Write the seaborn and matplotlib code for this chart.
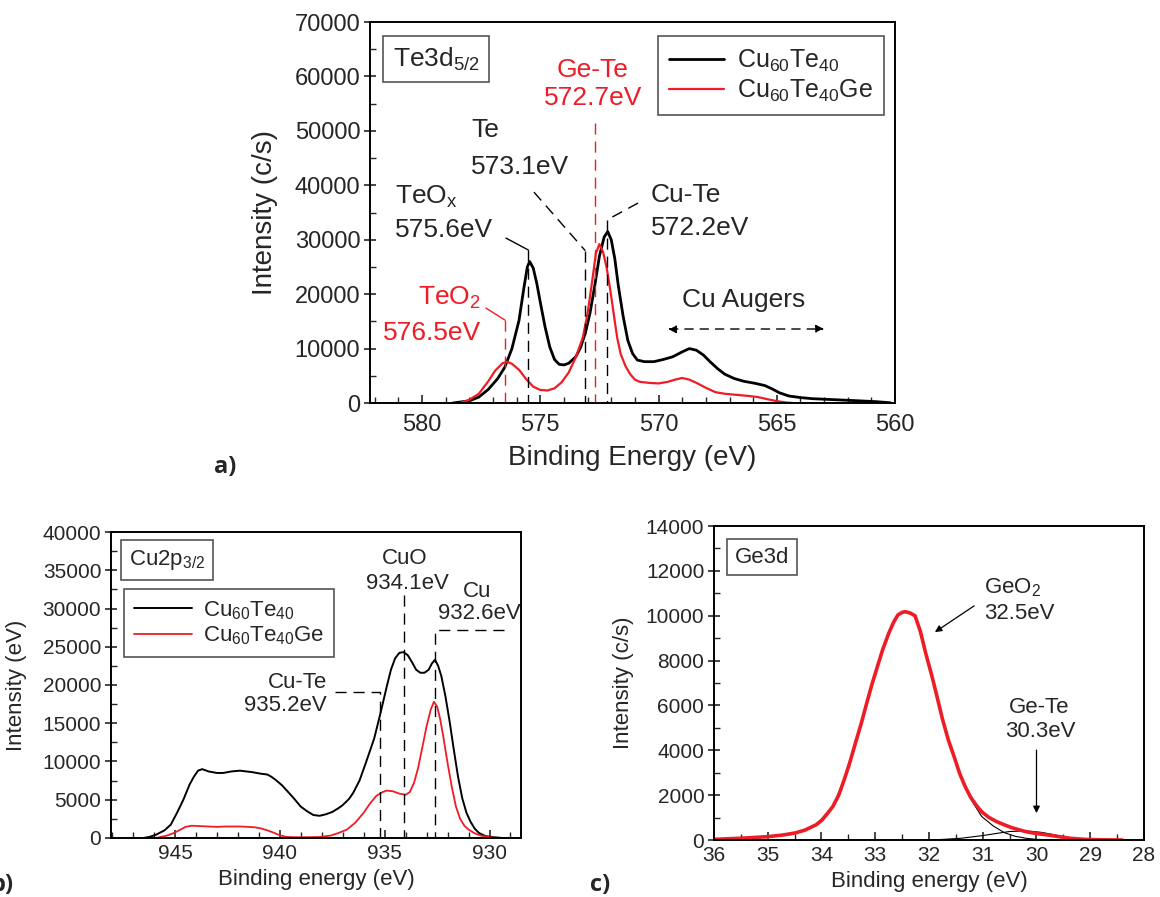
import matplotlib
matplotlib.use("Agg")
import matplotlib.pyplot as plt
import seaborn as sns
import pandas as pd
from matplotlib.ticker import MultipleLocator

# ---------------- data: panel a (Te3d5/2) ----------------
te_be_cute = [578.7, 578.0, 577.6, 577.2, 576.8, 576.5, 576.2, 575.9, 575.7, 575.55, 575.45, 575.3,
              575.15, 575.0, 574.8, 574.6, 574.4, 574.2, 574.0, 573.8, 573.5, 573.3, 573.1, 572.9,
              572.7, 572.5, 572.3, 572.15, 572.0, 571.85, 571.7, 571.5, 571.3, 571.1, 570.9, 570.6,
              570.2, 569.8, 569.4, 569.0, 568.7, 568.4, 568.1, 567.8, 567.5, 567.2, 566.8, 566.4,
              565.9, 565.5, 565.2, 564.9, 564.5, 564.0, 563.5, 562.5, 561.5, 560.8, 560.2]
te_int_cute = [0, 400, 1100, 2500, 4500, 6600, 10000, 15200, 21000, 25000, 26000, 24800,
               22000, 18500, 14000, 10300, 8000, 7100, 7000, 7300, 8500, 10200, 12800, 16500,
               21500, 27000, 30500, 31500, 30000, 26500, 21500, 16000, 11500, 9100, 7900, 7600,
               7600, 8000, 8500, 9400, 10000, 9700, 8800, 7500, 6300, 5300, 4500, 4000,
               3600, 3200, 2600, 1900, 1300, 1000, 800, 600, 400, 250, 50]
te_be_ge = [578.4, 578.0, 577.6, 577.2, 576.9, 576.6, 576.4, 576.2, 575.9, 575.6, 575.3, 575.0,
            574.7, 574.4, 574.1, 573.8, 573.5, 573.2, 573.0, 572.8, 572.65, 572.5, 572.35, 572.2,
            572.05, 571.9, 571.75, 571.6, 571.4, 571.2, 571.0, 570.8, 570.4, 570.0, 569.6, 569.3,
            569.0, 568.7, 568.4, 568.0, 567.6, 567.2, 566.7, 566.2, 565.8, 565.4, 565.0, 564.6, 564.3]
te_int_ge = [0, 600, 1700, 4000, 6000, 7300, 7600, 7200, 6100, 4400, 3000, 2400,
             2300, 2700, 3800, 5600, 8400, 12100, 16500, 22600, 27500, 29200, 27800, 25000,
             21000, 16500, 12000, 9000, 6800, 5300, 4300, 3900, 3700, 3600, 3900, 4300,
             4600, 4300, 3700, 2800, 2000, 1700, 1500, 1300, 1100, 700, 350, 100, 0]

# ---------------- data: panel b (Cu2p3/2) ----------------
cu_be_cute = [946.5, 946.2, 945.9, 945.5, 945.2, 944.9, 944.6, 944.3, 944.1, 943.9, 943.7, 943.4,
              943.0, 942.7, 942.3, 941.9, 941.6, 941.3, 940.9, 940.6, 940.4, 940.2, 939.9, 939.7,
              939.4, 939.0, 938.7, 938.4, 938.1, 937.8, 937.5, 937.2, 937.0, 936.7, 936.5, 936.2,
              935.9, 935.5, 935.2, 934.9, 934.7, 934.5, 934.3, 934.1, 933.9, 933.7, 933.5, 933.3,
              933.1, 932.9, 932.75, 932.6, 932.45, 932.3, 932.1, 931.9, 931.7, 931.5, 931.3, 931.1,
              930.9, 930.7, 930.5, 930.2, 929.8, 929.4]
cu_int_cute = [0, 150, 430, 1000, 1740, 3300, 5000, 7000, 8000, 8800, 9000, 8700,
               8500, 8500, 8700, 8800, 8700, 8600, 8400, 8300, 8000, 7600, 6900, 6300,
               5400, 4100, 3500, 3000, 2900, 3100, 3400, 3900, 4300, 5100, 5900, 7500,
               9800, 13000, 16300, 19800, 22000, 23500, 24200, 24300, 23900, 23000, 22000, 21600,
               21600, 22000, 22800, 23300, 22500, 21200, 18500, 15200, 11500, 8000, 5200, 3300,
               2100, 1200, 650, 250, 100, 0]
cu_be_ge = [945.9, 945.4, 945.05, 944.8, 944.5, 944.2, 943.8, 943.4, 943.0, 942.6, 942.2, 941.9,
            941.5, 941.2, 940.9, 940.6, 940.3, 940.0, 939.7, 939.3, 938.7, 938.1, 937.6, 937.2,
            936.8, 936.4, 936.0, 935.7, 935.4, 935.1, 934.9, 934.6, 934.3, 934.0, 933.8, 933.6,
            933.4, 933.2, 933.0, 932.8, 932.65, 932.5, 932.35, 932.2, 932.0, 931.8, 931.6, 931.4,
            931.2, 931.0, 930.7, 930.4, 930.0, 929.6]
cu_int_ge = [0, 300, 650, 1000, 1450, 1600, 1550, 1500, 1450, 1500, 1500, 1500,
             1450, 1400, 1250, 1000, 700, 350, 150, 100, 100, 130, 300, 650,
             1100, 2000, 3300, 4500, 5500, 6000, 6200, 6100, 5800, 5650, 6000, 7200,
             9200, 11900, 14600, 16800, 17800, 17200, 15500, 13200, 9800, 6700, 4100, 2500,
             1600, 1100, 600, 300, 100, 0]

# ---------------- data: panel c (Ge3d) ----------------
ge_be = [36.0, 35.5, 35.0, 34.7, 34.48, 34.3, 34.1, 33.99, 33.9, 33.79, 33.68, 33.58, 33.48, 33.37,
         33.26, 33.16, 33.06, 32.96, 32.86, 32.75, 32.66, 32.58, 32.5, 32.44, 32.35, 32.26, 32.16,
         32.06, 31.95, 31.85, 31.75, 31.64, 31.53, 31.43, 31.33, 31.23, 31.12, 31.02, 30.88, 30.74,
         30.6, 30.47, 30.33, 30.19, 30.0, 29.77, 29.55, 29.36, 29.1, 28.8, 28.4]
ge_int = [30, 80, 150, 230, 320, 450, 680, 890, 1150, 1490, 2000, 2670, 3400, 4310,
          5200, 6090, 6950, 7730, 8500, 9210, 9700, 10030, 10150, 10180, 10120, 10000, 9300,
          8320, 7350, 6390, 5400, 4460, 3700, 2970, 2400, 1930, 1550, 1260, 1000, 820,
          680, 560, 460, 370, 290, 220, 140, 75, 30, 10, 0]
geo2_be = [36.0, 35.0, 34.48, 34.1, 33.79, 33.58, 33.37, 33.16, 32.96, 32.75, 32.58, 32.44, 32.26,
           32.06, 31.85, 31.64, 31.43, 31.23, 31.02, 30.8, 30.6, 30.4, 30.2, 30.0, 29.6]
geo2_int = [30, 150, 320, 680, 1490, 2670, 4310, 6090, 7730, 9210, 10030, 10180, 10000,
            8320, 6390, 4460, 2950, 1850, 1050, 620, 330, 170, 80, 30, 0]
gete_be = [32.2, 31.8, 31.4, 31.0, 30.7, 30.5, 30.3, 30.1, 29.9, 29.7, 29.5, 29.3, 29.0, 28.7]
gete_int = [0, 20, 80, 200, 310, 380, 400, 390, 340, 250, 150, 70, 20, 0]

# peak positions (eV)
te_peaks_black = [575.6, 573.1, 572.2]
te_peaks_red = [576.5, 572.7]
cu_peaks = [935.2, 934.1, 932.6]

legend_labels = [r"Cu$_{60}$Te$_{40}$", r"Cu$_{60}$Te$_{40}$Ge"]

sns.set_style("ticks")
plt.rcParams.update({
    "font.family": ["Liberation Sans", "DejaVu Sans"],
    "mathtext.fontset": "custom",
    "mathtext.rm": "Liberation Sans",
    "mathtext.it": "Liberation Sans:italic",
    "mathtext.bf": "Liberation Sans:bold",
    "axes.linewidth": 1.4,
    "axes.edgecolor": "black",
})

RED = "#ee1c25"
DASH = (0, (8, 5))

fig = plt.figure(figsize=(11.6, 8.97), dpi=100)
axA = fig.add_axes([0.3190, 0.5507, 0.4526, 0.4247])
axB = fig.add_axes([0.0957, 0.0658, 0.3534, 0.3411])
axC = fig.add_axes([0.6155, 0.0635, 0.3707, 0.3501])


def style(ax, xmaj, xmin, ymaj, ymin, fs, xpad):
    ax.xaxis.set_major_locator(MultipleLocator(xmaj))
    ax.xaxis.set_minor_locator(MultipleLocator(xmin))
    ax.yaxis.set_major_locator(MultipleLocator(ymaj))
    ax.yaxis.set_minor_locator(MultipleLocator(ymin))
    ax.tick_params(axis="x", which="major", direction="in", length=6, width=1.2,
                   labelsize=fs, pad=xpad, top=False)
    ax.tick_params(axis="x", which="minor", direction="in", length=4, width=1.0, top=False)
    ax.tick_params(axis="y", which="major", direction="inout", length=8, width=1.2,
                   labelsize=fs, pad=3, right=False)
    ax.tick_params(axis="y", which="minor", direction="in", length=4, width=1.0, right=False)
    for s in ax.spines.values():
        s.set_visible(True)
        s.set_linewidth(1.4)


def boxed(ax, x, y, s, fs):
    ax.text(x, y, s, transform=ax.transAxes, ha="center", va="center", fontsize=fs,
            bbox=dict(boxstyle="square,pad=0.35", fc="white", ec="#555555", lw=1.2))


# ---------------- panel a ----------------
dfa1 = pd.DataFrame({"be": te_be_cute, "i": te_int_cute})
dfa2 = pd.DataFrame({"be": te_be_ge, "i": te_int_ge})
sns.lineplot(data=dfa1, x="be", y="i", ax=axA, color="black", lw=2.0, sort=False,
             estimator=None, label=legend_labels[0])
sns.lineplot(data=dfa2, x="be", y="i", ax=axA, color=RED, lw=1.6, sort=False,
             estimator=None, label=legend_labels[1])
axA.set_xlim(582.2, 560)
axA.set_ylim(0, 70000)
style(axA, 5, 1, 10000, 5000, 17, 8)
axA.set_xlabel("Binding Energy (eV)", fontsize=20)
axA.set_ylabel("Intensity (c/s)", fontsize=20)
axA.xaxis.set_label_coords(0.5, -0.11)
axA.yaxis.set_label_coords(-0.175, 0.5)
axA.legend(loc="upper right", bbox_to_anchor=(0.979, 0.963), fontsize=18, frameon=True,
           fancybox=False, edgecolor="#555555", framealpha=1, handlelength=2.2,
           borderaxespad=0, labelspacing=0.15, borderpad=0.45, handletextpad=0.5)
axA.get_legend().get_frame().set_linewidth(1.2)
boxed(axA, 0.126, 0.903, r"Te3d$_{5/2}$", 19)

# annotations a
fsA = 19
axA.plot([576.45, te_peaks_black[0] - 0.1], [30300, 28100], color="black", lw=1.0)
axA.plot([te_peaks_black[0] - 0.1] * 2, [28100, 0], color="black", lw=1.0, ls=DASH)
axA.plot([575.27, te_peaks_black[1]], [38760, 28000], color="black", lw=1.0, ls=DASH)
axA.plot([te_peaks_black[1]] * 2, [28000, 0], color="black", lw=1.0, ls=DASH)
axA.plot([570.87, te_peaks_black[2]], [36740, 33600], color="black", lw=1.0, ls=DASH)
axA.plot([te_peaks_black[2]] * 2, [33600, 0], color="black", lw=1.0, ls=DASH)
axA.plot([577.3, te_peaks_red[0]], [17450, 15250], color=RED, lw=1.0)
axA.plot([te_peaks_red[0]] * 2, [15250, 0], color=RED, lw=1.0, ls=DASH)
axA.plot([te_peaks_red[1]] * 2, [51400, 0], color=RED, lw=1.0, ls=DASH)

axA.text(577.93, 50150, "Te", fontsize=fsA, ha="left", va="center")
axA.text(577.93, 43350, "573.1eV", fontsize=fsA, ha="left", va="center")
axA.text(581.15, 37840, r"TeO$_\mathrm{x}$", fontsize=fsA, ha="left", va="center")
axA.text(581.15, 31780, "575.6eV", fontsize=fsA, ha="left", va="center")
axA.text(570.32, 38210, "Cu-Te", fontsize=fsA, ha="left", va="center")
axA.text(570.32, 32150, "572.2eV", fontsize=fsA, ha="left", va="center")
axA.text(572.77, 61170, "Ge-Te", fontsize=fsA, ha="center", va="center", color=RED)
axA.text(572.77, 56030, "572.7eV", fontsize=fsA, ha="center", va="center", color=RED)
axA.text(577.5, 19290, r"TeO$_2$", fontsize=fsA, ha="right", va="center", color=RED)
axA.text(577.5, 12860, "576.5eV", fontsize=fsA, ha="right", va="center", color=RED)
axA.text(566.39, 18920, "Cu Augers", fontsize=fsA, ha="center", va="center")
axA.annotate("", xy=(563.0, 13600), xytext=(569.6, 13600),
             arrowprops=dict(arrowstyle="<|-|>", color="black", lw=1.0, ls=(0, (6, 5)),
                             mutation_scale=12, shrinkA=0, shrinkB=0))

# ---------------- panel b ----------------
dfb1 = pd.DataFrame({"be": cu_be_cute, "i": cu_int_cute})
dfb2 = pd.DataFrame({"be": cu_be_ge, "i": cu_int_ge})
sns.lineplot(data=dfb1, x="be", y="i", ax=axB, color="black", lw=1.4, sort=False,
             estimator=None, label=legend_labels[0])
sns.lineplot(data=dfb2, x="be", y="i", ax=axB, color=RED, lw=1.3, sort=False,
             estimator=None, label=legend_labels[1])
axB.set_xlim(948.05, 928.5)
axB.set_ylim(0, 40000)
style(axB, 5, 1, 5000, 2500, 15, 4)
axB.set_xlabel("Binding energy (eV)", fontsize=16)
axB.set_ylabel("Intensity (eV)", fontsize=16)
axB.xaxis.set_label_coords(0.5, -0.1)
axB.yaxis.set_label_coords(-0.205, 0.5)
axB.legend(loc="upper left", bbox_to_anchor=(0.032, 0.814), fontsize=16, frameon=True,
           fancybox=False, edgecolor="#555555", framealpha=1, handlelength=2.6,
           borderaxespad=0, labelspacing=0.15, borderpad=0.45, handletextpad=0.5)
axB.get_legend().get_frame().set_linewidth(1.2)
boxed(axB, 0.137, 0.908, r"Cu2p$_{3/2}$", 16)

fsB = 16
axB.plot([937.38, cu_peaks[0], cu_peaks[0]], [19080, 19080, 0], color="black", lw=1.0, ls=DASH)
axB.plot([cu_peaks[1]] * 2, [31760, 0], color="black", lw=1.0, ls=DASH)
axB.plot([929.33, cu_peaks[2], cu_peaks[2]], [27190, 27190, 0], color="black", lw=1.0, ls=DASH)
axB.text(934.05, 36600, "CuO", fontsize=fsB, ha="center", va="center")
axB.text(933.9, 33330, "934.1eV", fontsize=fsB, ha="center", va="center")
axB.text(930.6, 32280, "Cu", fontsize=fsB, ha="center", va="center")
axB.text(930.48, 29400, "932.6eV", fontsize=fsB, ha="center", va="center", clip_on=False)
axB.text(937.76, 20390, "Cu-Te", fontsize=fsB, ha="right", va="center")
axB.text(937.76, 17380, "935.2eV", fontsize=fsB, ha="right", va="center")

# ---------------- panel c ----------------
dfc1 = pd.DataFrame({"be": geo2_be, "i": geo2_int})
dfc2 = pd.DataFrame({"be": gete_be, "i": gete_int})
dfc3 = pd.DataFrame({"be": ge_be, "i": ge_int})
sns.lineplot(data=dfc1, x="be", y="i", ax=axC, color="black", lw=0.8, sort=False, estimator=None)
sns.lineplot(data=dfc2, x="be", y="i", ax=axC, color="black", lw=0.8, sort=False, estimator=None)
sns.lineplot(data=dfc3, x="be", y="i", ax=axC, color=RED, lw=2.6, sort=False, estimator=None)
axC.set_xlim(36, 28)
axC.set_ylim(0, 14000)
style(axC, 1, 0.5, 2000, 1000, 15, 4)
axC.set_xlabel("Binding energy (eV)", fontsize=16)
axC.set_ylabel("Intensity (c/s)", fontsize=16)
axC.xaxis.set_label_coords(0.5, -0.1)
axC.yaxis.set_label_coords(-0.185, 0.5)
boxed(axC, 0.112, 0.901, "Ge3d", 16)

axC.text(30.98, 11240, r"GeO$_2$", fontsize=16, ha="left", va="center")
axC.text(30.98, 10120, "32.5eV", fontsize=16, ha="left", va="center")
axC.annotate("", xy=(31.89, 9270), xytext=(31.16, 10440),
             arrowprops=dict(arrowstyle="-|>", color="black", lw=0.9, mutation_scale=10,
                             shrinkA=0, shrinkB=0))
axC.text(29.95, 5930, "Ge-Te", fontsize=16, ha="center", va="center")
axC.text(29.92, 4820, "30.3eV", fontsize=16, ha="center", va="center")
axC.annotate("", xy=(30.0, 1200), xytext=(30.0, 4010),
             arrowprops=dict(arrowstyle="-|>", color="black", lw=0.9, mutation_scale=10,
                             shrinkA=0, shrinkB=0))

# panel labels
fig.text(0.194, 0.479, "a)", fontsize=17, fontweight="bold", family="Open Sans",
         ha="center", va="center")
fig.text(0.011, 0.0134, "b)", fontsize=17, fontweight="bold", family="Open Sans",
         ha="right", va="center")
fig.text(0.517, 0.0134, "c)", fontsize=17, fontweight="bold", family="Open Sans",
         ha="center", va="center")

fig.savefig("out.png", dpi=100)
